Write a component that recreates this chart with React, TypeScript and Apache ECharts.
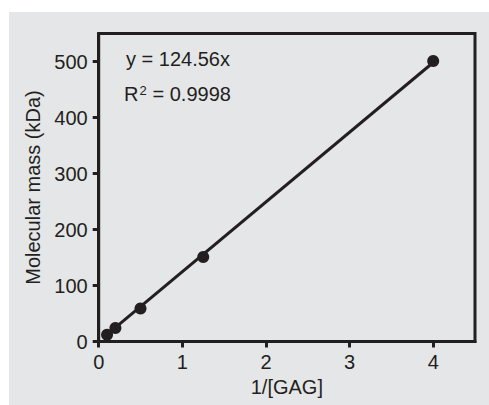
import React, { useEffect, useRef } from "react";
import * as echarts from "echarts";

const invGag = [0.1, 0.2, 0.5, 1.25, 4];
const molecularMass = [12, 24, 59, 151, 501];
const fitX = [0.08, 4];
const fitY = [10, 498.2];
const xTicks = [0, 1, 2, 3, 4];
const yTicks = [0, 100, 200, 300, 400, 500];
const equationText = "y = 124.56x";
const r2Value = "0.9998";

const INK = "#231f20";
const FONT = "Liberation Sans, Arial, sans-serif";
const FS = 20;

export default function App() {
  const ref = useRef<HTMLDivElement>(null);
  useEffect(() => {
    if (!ref.current) return;
    const chart = echarts.init(ref.current, undefined, { renderer: "svg" });
    chart.setOption({
      animation: false,
      backgroundColor: "#e5e6e7",
      textStyle: { fontFamily: FONT },
      grid: {
        show: true,
        left: 89.7,
        top: 21.5,
        right: 14,
        bottom: 63.5,
        borderWidth: 3,
        borderColor: INK,
        backgroundColor: "transparent",
      },
      xAxis: {
        type: "value",
        min: 0,
        max: 4.5,
        interval: 1,
        name: "1/[GAG]",
        nameLocation: "middle",
        nameGap: 35,
        nameTextStyle: { fontSize: FS, color: INK, fontFamily: FONT },
        axisLine: { show: true, onZero: false, lineStyle: { color: INK, width: 3 } },
        axisTick: { show: true, length: 6, lineStyle: { color: INK, width: 3 }, customValues: xTicks },
        axisLabel: { fontSize: FS, color: INK, margin: 10, fontFamily: FONT, customValues: xTicks },
        splitLine: { show: false },
      },
      yAxis: {
        type: "value",
        min: 0,
        max: 550,
        interval: 100,
        name: "Molecular mass (kDa)",
        nameLocation: "middle",
        nameGap: 54,
        nameTextStyle: { fontSize: FS, color: INK, fontFamily: FONT },
        axisLine: { show: true, onZero: false, lineStyle: { color: INK, width: 3 } },
        axisTick: { show: true, length: 6, lineStyle: { color: INK, width: 3 }, customValues: yTicks },
        axisLabel: { fontSize: FS, color: INK, margin: 11, fontFamily: FONT, customValues: yTicks },
        splitLine: { show: false },
      },
      series: [
        {
          type: "line",
          data: fitX.map((x, i) => [x, fitY[i]]),
          showSymbol: false,
          symbol: "none",
          lineStyle: { color: INK, width: 3 },
          z: 2,
        },
        {
          type: "scatter",
          data: invGag.map((x, i) => [x, molecularMass[i]]),
          symbol: "circle",
          symbolSize: 12,
          itemStyle: { color: INK, opacity: 1 },
          z: 3,
        },
      ],
      graphic: [
        {
          type: "text",
          left: 117,
          top: 37,
          style: { text: equationText, fontSize: FS, fontFamily: FONT, fill: INK },
        },
        {
          type: "text",
          left: 115,
          top: 72,
          style: { text: "R", fontSize: FS, fontFamily: FONT, fill: INK },
        },
        {
          type: "text",
          left: 130.5,
          top: 72,
          style: { text: "2", fontSize: 13, fontFamily: FONT, fill: INK },
        },
        {
          type: "text",
          left: 143.5,
          top: 72,
          style: { text: "= " + r2Value, fontSize: FS, fontFamily: FONT, fill: INK },
        },
      ],
    });
    return () => chart.dispose();
  }, []);
  return (
    <div style={{ position: "absolute", left: 0, top: 0, width: 489, height: 405, background: "#ffffff" }}>
      <div ref={ref} style={{ position: "absolute", left: 9, top: 12, width: 480, height: 393 }} />
    </div>
  );
}
